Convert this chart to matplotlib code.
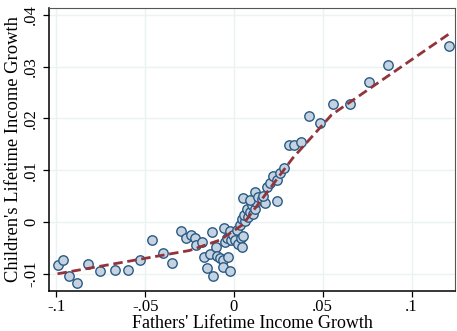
import matplotlib
matplotlib.use("Agg")
import matplotlib.pyplot as plt
import numpy as np

# Binned scatter data (fathers' growth, children's growth)
father_growth = [
    -0.0993, -0.0960, -0.0927, -0.0883, -0.0823, -0.0753, -0.0668, -0.0595,
    -0.0529, -0.0463, -0.0401, -0.0349,
    -0.0300, -0.0270, -0.0244, -0.0219, -0.0214, -0.0180, -0.0125, -0.0169,
    -0.0135, -0.0150, -0.0116, -0.0101, -0.0094, -0.0079, -0.0064, -0.0032,
    -0.0060, -0.0023, -0.0055, -0.0051, -0.0041, -0.0023, -0.0019, -0.0004,
    0.0006, 0.0015, 0.0024, 0.0034, 0.0038, 0.0043, 0.0049, 0.0043,
    0.0062, 0.0056, 0.0071, 0.0080, 0.0090, 0.0100, 0.0105, 0.0118,
    0.0124, 0.0052, 0.0090, 0.0118, 0.0137, 0.0156, 0.0174, 0.0165,
    0.0187, 0.0203, 0.0221, 0.0240, 0.0244, 0.0259, 0.0281,
    0.0310, 0.0338, 0.0375, 0.0422, 0.0484, 0.0559, 0.0653, 0.0761,
    0.0865, 0.1210,
]
child_growth = [
    -0.0083, -0.0073, -0.0104, -0.0117, -0.0081, -0.0094, -0.0093, -0.0093,
    -0.0073, -0.0035, -0.0059, -0.0080,
    -0.0017, -0.0031, -0.0025, -0.0030, -0.0044, -0.0038, -0.0019, -0.0067,
    -0.0062, -0.0089, -0.0104, -0.0048, -0.0066, -0.0070, -0.0073, -0.0068,
    -0.0087, -0.0094, -0.0012, -0.0038, -0.0030, -0.0017, -0.0035, -0.0025,
    -0.0035, -0.0015, -0.0042, -0.0006, -0.0031, -0.0048, -0.0027, 0.0005,
    0.0001, 0.0014, 0.0025, 0.0010, 0.0020, 0.0033, 0.0015, 0.0026,
    0.0039, 0.0046, 0.0042, 0.0058, 0.0049, 0.0044, 0.0036, 0.0050,
    0.0068, 0.0075, 0.0089, 0.0081, 0.0041, 0.0094, 0.0104,
    0.0149, 0.0149, 0.0155, 0.0205, 0.0192, 0.0228, 0.0228, 0.0271,
    0.0303, 0.0340,
]

# Fitted piecewise line
fit_x = [-0.0993, -0.025, -0.008, 0.005, 0.033, 0.055, 0.1215]
fit_y = [-0.0100, -0.0055, -0.0035, -0.0005, 0.0123, 0.0207, 0.0364]

xticks = [-0.1, -0.05, 0.0, 0.05, 0.1]
xtick_labels = ["-.1", "-.05", "0", ".05", ".1"]
yticks = [-0.01, 0.0, 0.01, 0.02, 0.03, 0.04]
ytick_labels = ["-.01", "0", ".01", ".02", ".03", ".04"]

plt.rcParams['font.family'] = ['Liberation Serif', 'DejaVu Serif']

W, H = 457, 331
fig = plt.figure(figsize=(W / 100, H / 100), dpi=100)
ax = fig.add_axes([49 / W, 1 - 291 / H, (455 - 49) / W, (291 - 8) / H])

ax.set_xlim(-0.1041, 0.1244)
ax.set_ylim(-0.01332, 0.0413)

grid_color = "#eaf2f3"
for xv in xticks:
    ax.axvline(xv, color=grid_color, lw=1.0, zorder=0)
for yv in yticks:
    ax.axhline(yv, color=grid_color, lw=1.0, zorder=0)

ax.scatter(father_growth, child_growth, s=46, facecolor="#c5d3e0",
           edgecolor="#2a5a85", linewidths=1.0, zorder=3)
ax.plot(fit_x, fit_y, color="#93333b", lw=2.0, linestyle=(0, (3.4, 1.7)),
        zorder=4)

ax.set_xticks(xticks)
ax.set_xticklabels(xtick_labels)
ax.set_yticks(yticks)
ax.set_yticklabels(ytick_labels, rotation=90, va="center")
ax.tick_params(axis="both", direction="out", length=4, width=0.9,
               labelsize=12, colors="black")
ax.tick_params(axis="x", pad=2)
ax.tick_params(axis="y", pad=3)

for side in ["left", "bottom"]:
    ax.spines[side].set_color("black")
    ax.spines[side].set_linewidth(1.1)
for side in ["top", "right"]:
    ax.spines[side].set_color("#555555")
    ax.spines[side].set_linewidth(0.8)

ax.set_xlabel("Fathers' Lifetime Income Growth", fontsize=13, labelpad=-0.5)
ax.set_ylabel("Children's Lifetime Income Growth", fontsize=13.3, labelpad=1)

fig.savefig("out.png", dpi=100)
